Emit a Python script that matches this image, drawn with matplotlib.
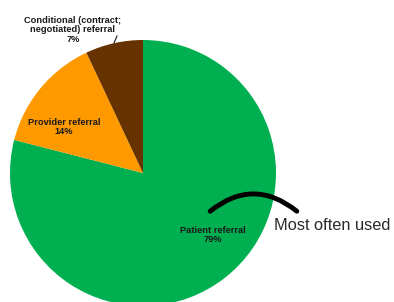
import matplotlib
matplotlib.use("Agg")
import matplotlib.pyplot as plt

categories = ["Patient referral", "Provider referral", "Conditional (contract;\nnegotiated) referral"]
values = [79, 14, 7]
colors = ["#00B050", "#FF9900", "#663300"]

plt.rcParams['font.family'] = ['Liberation Sans', 'DejaVu Sans']

fig = plt.figure(figsize=(3.94, 3.02), dpi=100)
ax = fig.add_axes([0, 0, 1, 1])

cx, cy, r = 143, 302 - 173, 133
ax.pie(values, colors=colors, startangle=90, counterclock=False,
       center=(cx, cy), radius=r, frame=True,
       wedgeprops=dict(linewidth=0))
ax.set_xlim(0, 394)
ax.set_ylim(0, 302)
ax.set_aspect('equal')
ax.axis('off')

lab_kw = dict(ha='center', va='center', fontsize=6.7, fontweight='bold', color='#1a1a1a', linespacing=1.05)
ax.text(213, 302 - 235, f"{categories[0]}\n{values[0]}%", **lab_kw)
ax.text(64, 302 - 127, f"{categories[1]}\n{values[1]}%", **lab_kw)
ax.text(73, 302 - 30, f"{categories[2]}\n{values[2]}%", **lab_kw)
ax.plot([114, 117], [302 - 43, 302 - 36], color='#1a1a1a', lw=0.8)

ax.annotate("", xy=(299, 302 - 213), xytext=(208, 302 - 213),
            arrowprops=dict(arrowstyle='-', lw=3.5, color='black',
                            connectionstyle='arc3,rad=-0.42'))
ax.text(332, 302 - 225, "Most often used", ha='center', va='center', fontsize=11.8, color='#2a2a2a')

fig.savefig("out.png", dpi=100)
